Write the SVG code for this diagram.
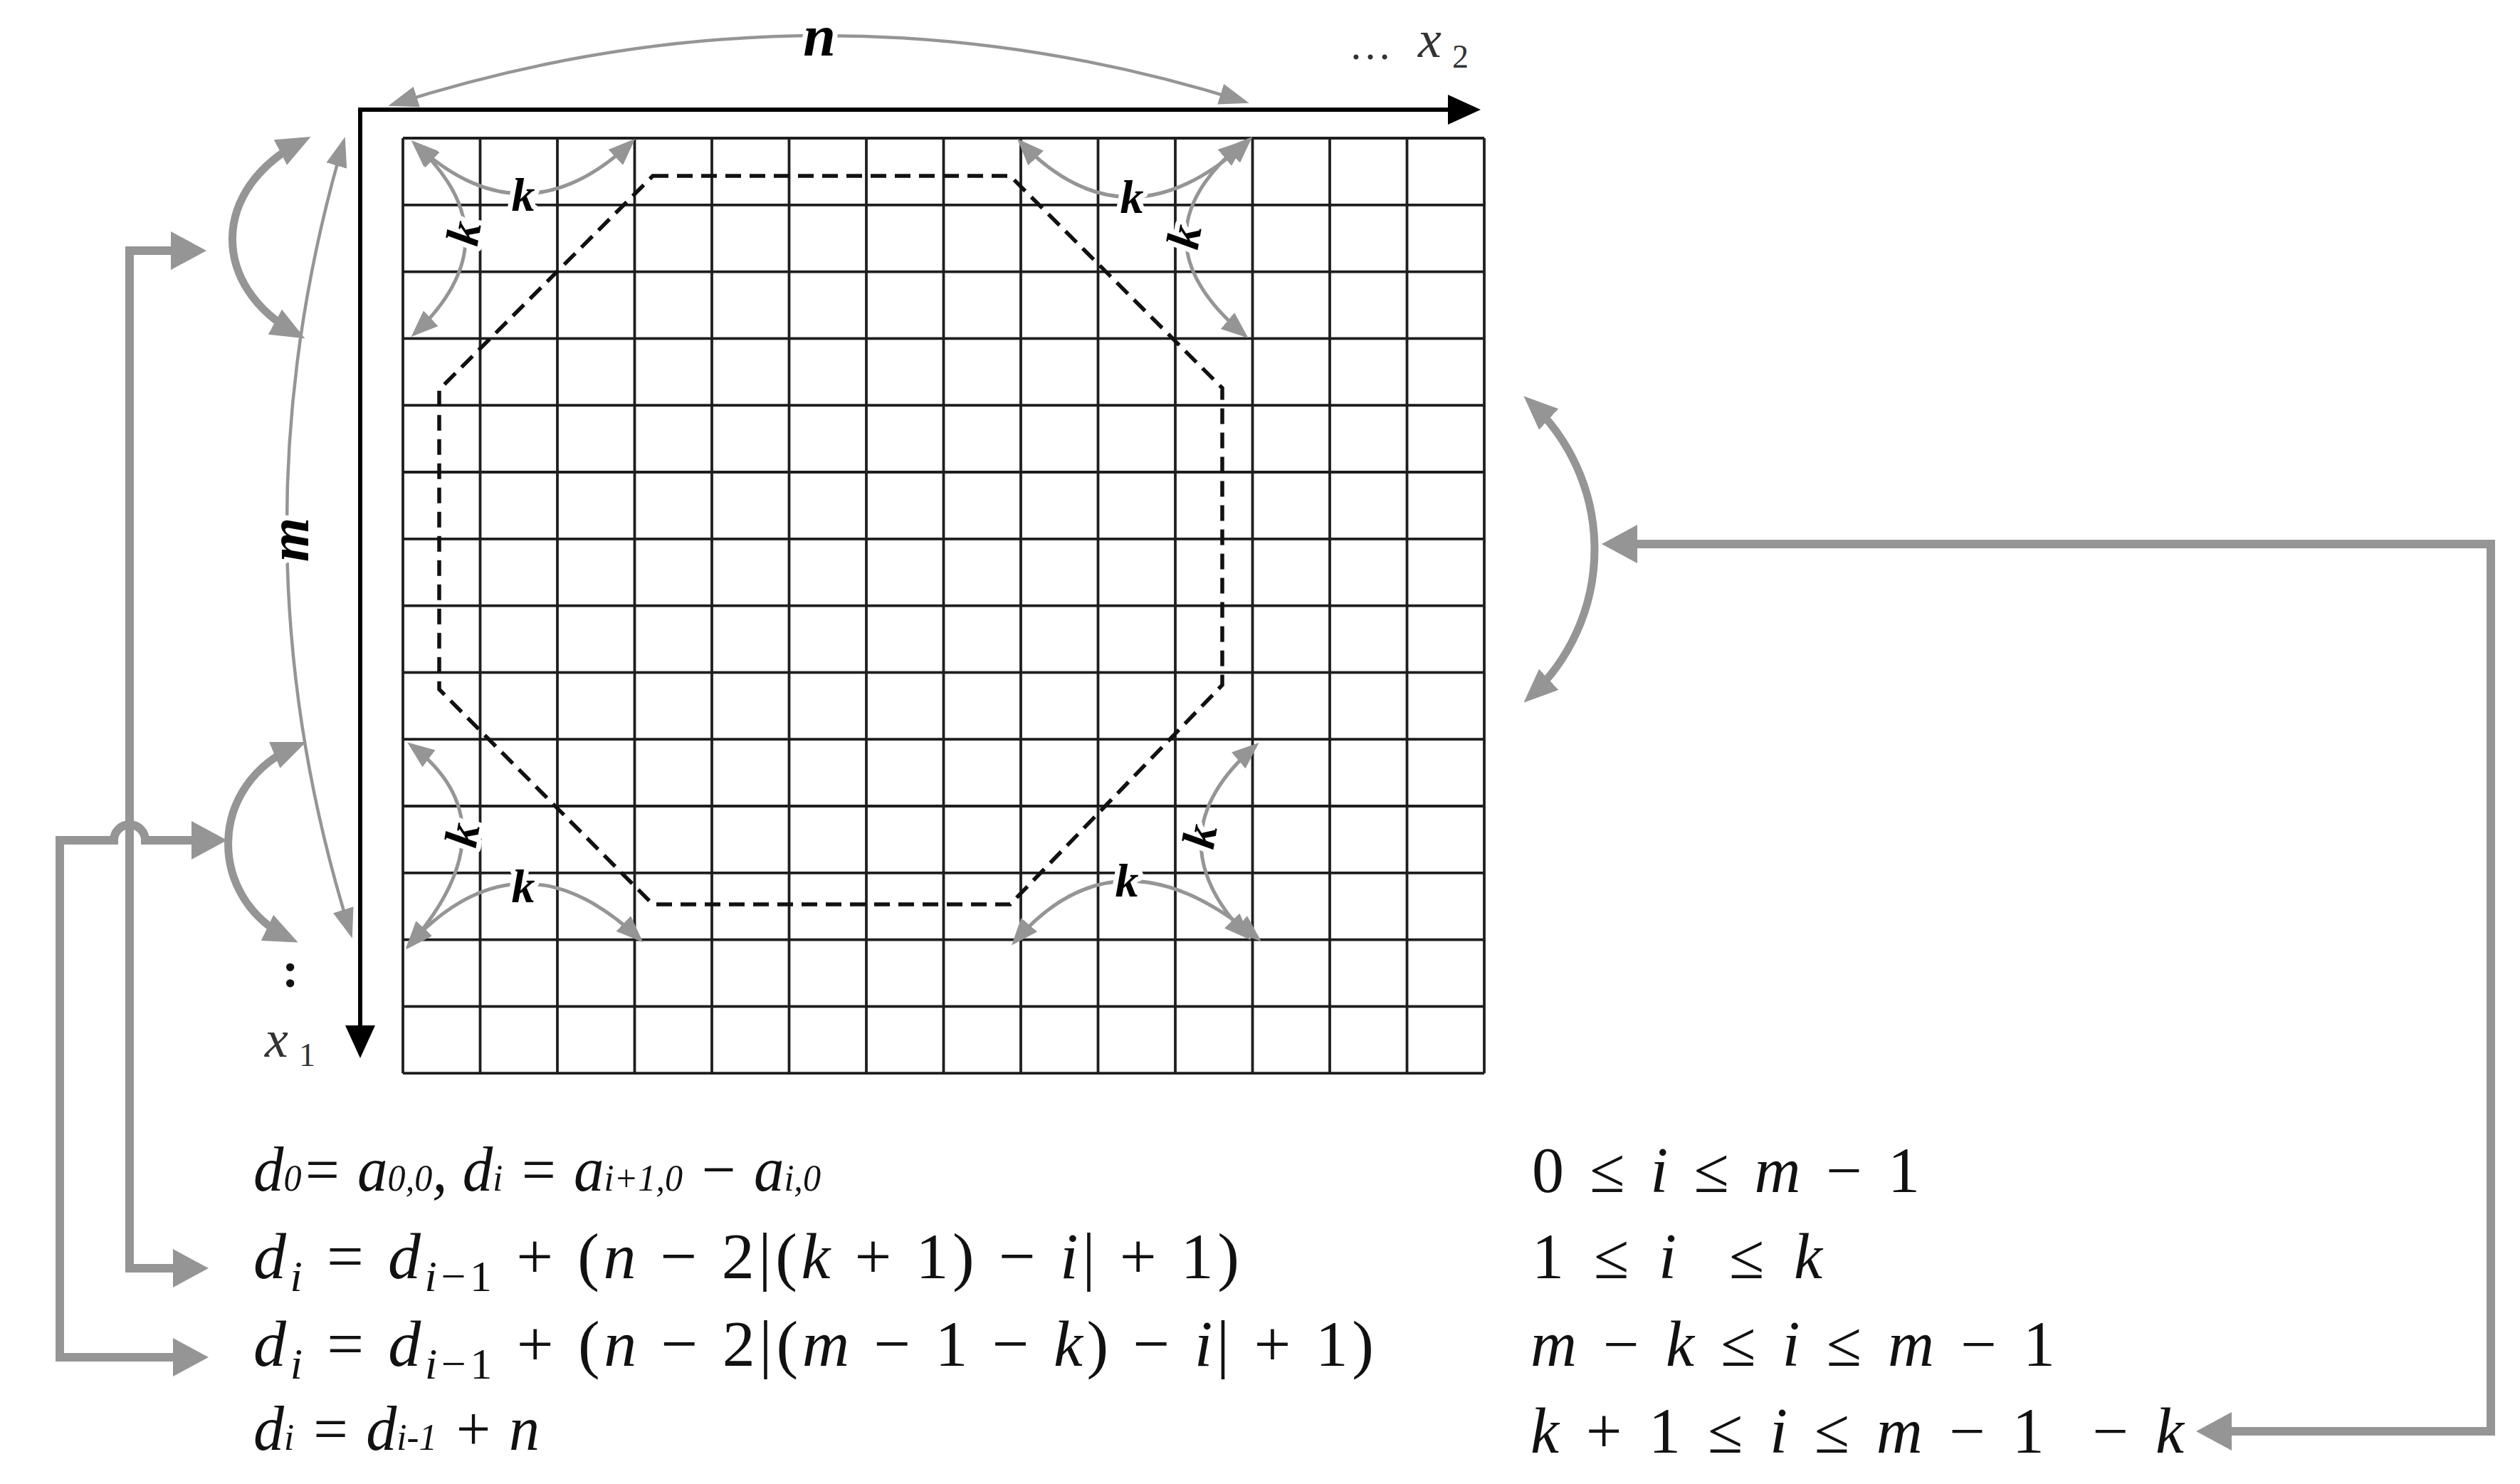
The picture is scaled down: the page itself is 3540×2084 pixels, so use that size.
<svg xmlns="http://www.w3.org/2000/svg" width="3540" height="2084" viewBox="0 0 3540 2084">
<style>
.grid{fill:none;stroke:#1e1e1e;stroke-width:3.8}
.oct{fill:none;stroke:#111;stroke-width:5.5;stroke-dasharray:22 12}
.axis{fill:none;stroke:#000;stroke-width:6;stroke-linejoin:miter}
.thin{fill:none;stroke:#959595;stroke-width:4.5}
.karc{fill:none;stroke:#959595;stroke-width:5}
.brk{fill:none;stroke:#959595;stroke-width:11}
.thick{fill:none;stroke:#959595;stroke-width:12;stroke-linejoin:miter}
.lbl{font-family:"Liberation Serif","DejaVu Serif",serif;font-weight:bold;font-style:italic;fill:#000;stroke:#fff;stroke-width:14;paint-order:stroke;stroke-linejoin:round}
.ax{font-family:"Liberation Serif","DejaVu Serif",serif;fill:#333}
.f1{font-family:"Liberation Serif","DejaVu Serif",serif;font-style:italic;font-size:88px;fill:#111}
.f2{font-family:"Liberation Serif","DejaVu Serif",serif;font-size:92px;fill:#111}
.f3{font-family:"Liberation Serif","DejaVu Serif",serif;font-size:90px;fill:#111}
.it{font-style:italic}
.s{font-size:52px}
.s2{font-size:62px}
</style>
<defs>
<marker id="aAxis" markerUnits="userSpaceOnUse" markerWidth="46" markerHeight="42" refX="38" refY="21" orient="auto-start-reverse"><path d="M0,0 L46,21 L0,42 Z" fill="#000"/></marker>
<marker id="aThin" markerUnits="userSpaceOnUse" markerWidth="42" markerHeight="30" refX="36" refY="15" orient="auto-start-reverse"><path d="M0,0 L42,15 L0,30 Z" fill="#959595"/></marker>
<marker id="aK" markerUnits="userSpaceOnUse" markerWidth="38" markerHeight="30" refX="32" refY="15" orient="auto-start-reverse"><path d="M0,0 L38,15 L0,30 Z" fill="#959595"/></marker>
<marker id="aBrk" markerUnits="userSpaceOnUse" markerWidth="48" markerHeight="40" refX="35" refY="20" orient="auto-start-reverse"><path d="M0,0 L48,20 L0,40 Z" fill="#959595"/></marker>
<marker id="aThick" markerUnits="userSpaceOnUse" markerWidth="50" markerHeight="54" refX="38" refY="27" orient="auto-start-reverse"><path d="M0,0 L50,27 L0,54 Z" fill="#959595"/></marker>
</defs>
<rect width="3540" height="2084" fill="#fff"/>

<g id="grid">
<path class="grid" d="M566,194V1507.2 M674.5,194V1507.2 M783,194V1507.2 M891.5,194V1507.2 M1000,194V1507.2 M1108.5,194V1507.2 M1217,194V1507.2 M1325.5,194V1507.2 M1434,194V1507.2 M1542.5,194V1507.2 M1651,194V1507.2 M1759.5,194V1507.2 M1868,194V1507.2 M1976.5,194V1507.2 M2085,194V1507.2 M566,194H2085 M566,287.8H2085 M566,381.6H2085 M566,475.4H2085 M566,569.2H2085 M566,663H2085 M566,756.8H2085 M566,850.6H2085 M566,944.4H2085 M566,1038.2H2085 M566,1132H2085 M566,1225.8H2085 M566,1319.6H2085 M566,1413.4H2085 M566,1507.2H2085"/>
</g>

<g id="octagon">
<polygon class="oct" points="917,247 1419,247 1717,545 1717,962 1419,1270 917,1270 617,968 617,547"/>
</g>

<g id="axes">
<path class="axis" d="M2072,154 L506,154 L506,1478" marker-start="url(#aAxis)" marker-end="url(#aAxis)"/>
<text class="ax" x="1895" y="83" font-size="60">…</text>
<text class="ax" x="1992" y="80" font-size="74" font-style="italic">x</text>
<text class="ax" x="2040" y="95" font-size="46">2</text>
<text class="ax" x="372" y="1484" font-size="74" font-style="italic">x</text>
<text class="ax" x="420" y="1497" font-size="46">1</text>
<text x="408" y="1386" font-family="Liberation Serif, serif" font-weight="bold" font-size="70" text-anchor="middle" fill="#111">:</text>
</g>

<g id="connectors">
<path class="thin" d="M551,147 Q1150,-45 1749,143" marker-start="url(#aThin)" marker-end="url(#aThin)"/>
<path class="thin" d="M483,198 Q318,757 493,1312" marker-start="url(#aThin)" marker-end="url(#aThin)"/>
<path class="karc" d="M582,201 Q735,344 888,199" marker-start="url(#aK)" marker-end="url(#aK)"/>
<path class="karc" d="M584,203 Q725,334 582,469" marker-start="url(#aK)" marker-end="url(#aK)"/>
<path class="karc" d="M1433,199 Q1584,356 1755,196" marker-start="url(#aK)" marker-end="url(#aK)"/>
<path class="karc" d="M1745,201 Q1585,334 1749,471" marker-start="url(#aK)" marker-end="url(#aK)"/>
<path class="karc" d="M577,1046 Q724,1157 574,1329" marker-start="url(#aK)" marker-end="url(#aK)"/>
<path class="karc" d="M574,1327 Q730,1159 899,1319" marker-start="url(#aK)" marker-end="url(#aK)"/>
<path class="karc" d="M1425,1323 Q1570,1154 1767,1318" marker-start="url(#aK)" marker-end="url(#aK)"/>
<path class="karc" d="M1764,1047 Q1616,1175 1753,1316" marker-start="url(#aK)" marker-end="url(#aK)"/>
<path class="brk" d="M425,198 C295,265 295,402 417,469" marker-start="url(#aBrk)" marker-end="url(#aBrk)"/>
<path class="brk" d="M418,1047 C290,1100 290,1262 407,1318" marker-start="url(#aBrk)" marker-end="url(#aBrk)"/>
<path class="brk" d="M2150,565 A282,282 0 0 1 2150,978" stroke-width="9" marker-start="url(#aBrk)" marker-end="url(#aBrk)"/>
<path class="thick" d="M278,352 L182,352 L182,1781 L281,1781" marker-start="url(#aThick)" marker-end="url(#aThick)"/>
<path class="thick" d="M281,1906 L84,1906 L84,1180 L160,1180 A22,22 0 0 1 204,1180 L307,1180" marker-start="url(#aThick)" marker-end="url(#aThick)"/>
<path class="thick" d="M3097,2010 L3499,2010 L3499,764 L2262,764" marker-start="url(#aThick)" marker-end="url(#aThick)"/>
</g>

<g id="labels">
<text class="lbl" x="1151" y="78" font-size="82" text-anchor="middle" stroke-width="20">n</text>
<text class="lbl" transform="translate(433,758) rotate(-90)" font-size="80" text-anchor="middle" stroke-width="16">m</text>
<text class="lbl" x="735" y="296" font-size="66" text-anchor="middle">k</text>
<text class="lbl" transform="translate(673,331) rotate(-80)" font-size="66" text-anchor="middle">k</text>
<text class="lbl" x="1590" y="299" font-size="66" text-anchor="middle">k</text>
<text class="lbl" transform="translate(1685,336) rotate(-80)" font-size="66" text-anchor="middle">k</text>
<text class="lbl" transform="translate(671,1176) rotate(-80)" font-size="66" text-anchor="middle">k</text>
<text class="lbl" x="735" y="1267" font-size="66" text-anchor="middle">k</text>
<text class="lbl" x="1583" y="1259" font-size="66" text-anchor="middle">k</text>
<text class="lbl" transform="translate(1707,1178) rotate(-80)" font-size="66" text-anchor="middle">k</text>
</g>

<g id="formulas">
<text class="f1" x="356" y="1672" textLength="797" lengthAdjust="spacingAndGlyphs">d<tspan class="s">0</tspan>= a<tspan class="s">0,0</tspan>, d<tspan class="s">i</tspan> = a<tspan class="s">i+1,0</tspan> − a<tspan class="s">i,0</tspan></text>
<text class="f2" x="356" y="1795" textLength="1385" lengthAdjust="spacing"><tspan class="it">d</tspan><tspan class="it s2" dy="18">i</tspan><tspan dy="-18"> = </tspan><tspan class="it">d</tspan><tspan class="s2" dy="18"><tspan class="it">i</tspan>−1</tspan><tspan dy="-18"> + (</tspan><tspan class="it">n</tspan> − 2|(<tspan class="it">k</tspan> + 1) − <tspan class="it">i</tspan>| + 1)</text>
<text class="f2" x="356" y="1918" textLength="1574" lengthAdjust="spacing"><tspan class="it">d</tspan><tspan class="it s2" dy="18">i</tspan><tspan dy="-18"> = </tspan><tspan class="it">d</tspan><tspan class="s2" dy="18"><tspan class="it">i</tspan>−1</tspan><tspan dy="-18"> + (</tspan><tspan class="it">n</tspan> − 2|(<tspan class="it">m</tspan> − 1 − <tspan class="it">k</tspan>) − <tspan class="it">i</tspan>| + 1)</text>
<text class="f1" x="356" y="2036" textLength="402" lengthAdjust="spacingAndGlyphs">d<tspan class="s">i</tspan> = d<tspan class="s">i-1</tspan> + n</text>
</g>

<g id="ranges">
<text class="f3" x="2152" y="1674" textLength="545" lengthAdjust="spacing">0 ≤ <tspan class="it">i</tspan> ≤ <tspan class="it">m</tspan> − 1</text>
<text class="f3" x="2152" y="1795" textLength="408" lengthAdjust="spacing" xml:space="preserve">1 ≤ <tspan class="it">i</tspan>  ≤ <tspan class="it">k</tspan></text>
<text class="f3" x="2150" y="1918" textLength="737" lengthAdjust="spacing"><tspan class="it">m</tspan> − <tspan class="it">k</tspan> ≤ <tspan class="it">i</tspan> ≤ <tspan class="it">m</tspan> − 1</text>
<text class="f3" x="2150" y="2040" textLength="918" lengthAdjust="spacing" xml:space="preserve"><tspan class="it">k</tspan> + 1 ≤ <tspan class="it">i</tspan> ≤ <tspan class="it">m</tspan> − 1  − <tspan class="it">k</tspan></text>
</g>
</svg>
